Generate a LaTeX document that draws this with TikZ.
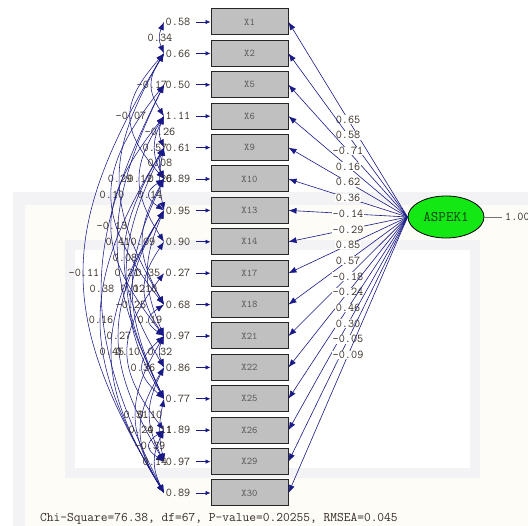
\documentclass[tikz,border=0pt]{standalone}
\usepackage{fontspec}
\usetikzlibrary{arrows.meta,shapes.geometric}
\definecolor{navyc}{RGB}{25,25,135}
\definecolor{boxgray}{RGB}{192,192,192}
\definecolor{txt}{RGB}{55,45,35}
\definecolor{lgreen}{RGB}{20,232,20}
\definecolor{dgreen}{RGB}{20,60,20}
\definecolor{wmgray}{RGB}{243,243,246}
\definecolor{wmcream}{RGB}{253,252,247}
\newcommand\covline[4]{%
  \pgfmathsetmacro\cya{22+31.4*#1}%
  \pgfmathsetmacro\cyb{22+31.4*#2}%
  \pgfmathsetmacro\ccx{(4*#3-164)/3}%
  \pgfmathsetmacro\cdd{0.4*(\cyb-\cya)}%
  \draw[cov] (e#1) .. controls (\ccx,\cya+\cdd) and (\ccx,\cyb-\cdd) .. (e#2)
    node[pos=.5,clab]{#4};}
\begin{document}
\begin{tikzpicture}[x=1pt,y=-1pt,
  obs/.style={draw=black!85,line width=1pt,fill=boxgray,minimum width=77pt,minimum height=26pt,inner sep=0pt,
    font=\ttfamily\fontsize{10.2}{11}\selectfont,text=black!65},
  evar/.style={font=\ttfamily\fontsize{11.9}{13}\selectfont,text=txt,inner sep=0pt},
  lab/.style={font=\ttfamily\fontsize{11.9}{13}\selectfont,text=txt,fill=white,inner sep=0.6pt},
  clab/.style={font=\ttfamily\fontsize{11.9}{13}\selectfont,text=txt,inner sep=0pt},
  lat/.style={ellipse,draw=black,line width=0.8pt,fill=lgreen,minimum width=76pt,minimum height=42pt,inner sep=0pt,
    font=\ttfamily\fontsize{14.6}{16}\selectfont,text=dgreen},
  load/.style={draw=navyc,line width=0.6pt,-{Latex[length=8pt,width=6pt]}},
  earr/.style={draw=navyc,line width=0.7pt,-{Latex[length=5pt,width=4.5pt]}},
  cov/.style={draw=navyc,line width=0.55pt,{Latex[length=8pt,width=6pt]}-{Latex[length=8pt,width=6pt]}}]
\useasboundingbox (0,0) rectangle (528,526);
% faint watermark background
\fill[wmgray] (13,192) rectangle (528,526);
\fill[wmcream] (25,205) rectangle (528,526);
\fill[wmgray] (65,240) rectangle (480,478);
\fill[white] (75,250) rectangle (470,468);
% latent variable
\node[lat] (A) at (446,217) {ASPEK1};
\coordinate (Aend) at (502,217);
\draw[black!55,line width=0.5pt] (A.east) -- (Aend);
\node[anchor=west,font=\ttfamily\fontsize{11.9}{13}\selectfont,text=txt,inner sep=0pt] (Avar) at (505,217) {1.00};
% observed variables
\foreach \n/\v/\l [count=\i from 0] in {X1/0.58/0.65, X2/0.66/0.58, X5/0.50/-0.71, X6/1.11/0.16,
  X9/0.61/0.62, X10/0.89/0.36, X13/0.95/-0.14, X14/0.90/-0.29, X17/0.27/0.85, X18/0.68/0.57,
  X21/0.97/-0.18, X22/0.86/-0.24, X25/0.77/0.46, X26/1.89/0.30, X29/0.97/-0.05, X30/0.89/-0.09}{
  \pgfmathsetmacro\yy{22+31.4*\i}
  \node[obs] (b\i) at (249.5,\yy) {\n};
  \node[evar] (v\i) at (178,\yy) {\v};
  \coordinate (e\i) at (164,\yy);
  \coordinate (s\i) at (196,\yy);
  \draw[earr] (s\i) -- (b\i.west);
  \draw[load] (A.west) -- (b\i.east) node[pos=.5,lab]{\l};
}
% correlated errors
\covline{0}{1}{160}{0.34}
\covline{1}{3}{152}{-0.17}
\covline{1}{5}{131}{-0.07}
\covline{3}{4}{160}{-0.26}
\covline{3}{5}{155}{0.57}
\covline{4}{5}{160}{0.08}
\covline{1}{9}{120}{0.29}
\covline{3}{7}{140}{0.12}
\covline{4}{6}{160}{0.26}
\covline{2}{9}{112}{0.10}
\covline{5}{6}{150}{0.14}
\covline{3}{10}{112}{-0.13}
\covline{2}{12}{118}{0.41}
\covline{5}{9}{143}{0.09}
\covline{4}{11}{125}{0.08}
\covline{1}{15}{84}{-0.11}
\covline{4}{12}{127}{0.21}
\covline{6}{10}{148}{0.35}
\covline{2}{15}{102}{0.38}
\covline{5}{12}{133}{0.12}
\covline{7}{10}{145}{0.10}
\covline{6}{12}{131}{-0.25}
\covline{4}{15}{101}{0.16}
\covline{9}{10}{150}{0.19}
\covline{6}{14}{119}{0.27}
\covline{6}{15}{112}{0.45}
\covline{8}{13}{128}{0.10}
\covline{10}{11}{160}{0.32}
\covline{10}{12}{143}{0.36}
\covline{10}{15}{136}{0.31}
\covline{11}{14}{150}{0.10}
\covline{11}{15}{141}{0.24}
\covline{12}{14}{160}{0.11}
\covline{13}{14}{150}{-0.39}
\covline{13}{15}{155}{0.14}
% fit statistics
\node[anchor=west,font=\ttfamily\fontsize{13.1}{15}\selectfont,text=txt,inner sep=0pt] (fit) at (40,519)
  {Chi-Square=76.38, df=67, P-value=0.20255, RMSEA=0.045};
\end{tikzpicture}
\end{document}
